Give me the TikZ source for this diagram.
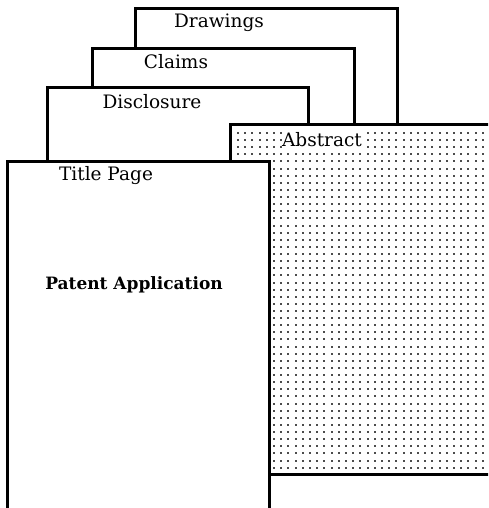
\documentclass[tikz,border=0pt]{standalone}
\usepackage{fontspec}
\setmainfont{DejaVu Serif}
\begin{document}
\begin{tikzpicture}[x=1pt,y=-1pt,
  sheet/.style={draw=black,line width=3pt,fill=white},
  tab/.style={font=\fontsize{18.5}{18.5}\selectfont,inner sep=0.5pt},
  dotcol/.style={fill=black!70}]
\useasboundingbox (0,0) rectangle (488,508);
\begin{scope}
\clip (0,0) rectangle (488,508);
% stacked sheets, back to front
\draw[sheet] (135,9) rectangle (397,200);
\node[tab] (drawings) at (219,23) {Drawings};
\draw[sheet] (92,48.3) rectangle (354,200);
\node[tab] (claims) at (176,62) {Claims};
\draw[sheet] (47.7,87.7) rectangle (308.3,200);
\node[tab] (disclosure) at (152,102) {Disclosure};
% dotted abstract sheet
\draw[sheet] (230,124.2) rectangle (500,474.3);
\begin{scope}
\clip (231.6,125.8) rectangle (500,472.7);
\foreach \i in {0,...,36}{
  \pgfmathsetmacro\xx{round(237+7.2*\i)}
  \foreach \j in {0,...,47}{
    \pgfmathsetmacro\yy{round(132+7.12*\j)}
    \fill[dotcol] (\xx,\yy) rectangle +(2,2);
  }
}
\end{scope}
\node[tab,fill=white] (abstract) at (322,140) {Abstract};
% front sheet
\draw[sheet] (7.7,161.7) rectangle (269.3,520);
\node[tab] (title) at (106,176) {Title Page};
\node[font=\bfseries\fontsize{17}{17}\selectfont] (app) at (134,285) {Patent Application};
\end{scope}
\end{tikzpicture}
\end{document}
